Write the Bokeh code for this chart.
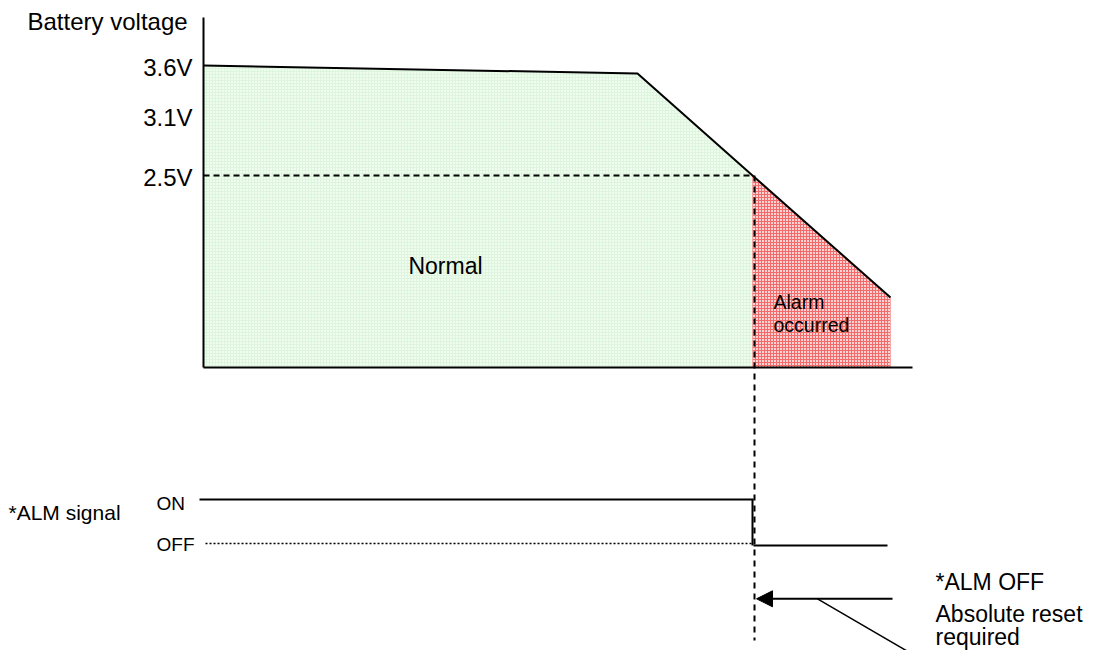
from bokeh.plotting import figure
from bokeh.models import Range1d, Arrow, NormalHead
from bokeh.core.properties import value
from bokeh.embed import file_html
from bokeh.resources import INLINE

FONT = "Liberation Sans"

# ---- diagram data (x: time units, y: volts) ----
# battery voltage curve
curve_t = [0, 434, 549, 687]
curve_v = [3.6, 3.52, 2.5, 1.28]
v_base = 0.58           # bottom of voltage plot (x axis)
v_axis_top = 4.08
t_axis_end = 709
alarm_t = 549
alarm_v = 2.5

# y tick labels
tick_values = [3.6, 3.1, 2.5]
tick_labels = ["3.6V", "3.1V", "2.5V"]

# ALM signal levels
sig_on = -0.74
sig_off = -1.20
sig_off_dotted = -1.18
sig_on_t = [-4, 550]
sig_off_t = [550, 684]
sig_dotted_t = [2, 549]
sig_labels = ["ON", "OFF"]
sig_label_v = [-0.78, -1.19]

# reset arrow and leader line
arrow_v = -1.733
arrow_t = [689, 553]
leader_t = [614, 734]
leader_v = [-1.733, -2.433]
dash_bottom_v = -2.15

# texts
note_lines = ["*ALM OFF", "Absolute reset", "required"]
note_v = [-1.56, -1.885, -2.11]
alarm_lines = ["Alarm", "occurred"]
alarm_text_v = [1.24, 1.01]

p = figure(width=1083, height=650, output_backend="svg", toolbar_location=None,
           x_range=Range1d(-203, 880), y_range=Range1d(-2.25, 4.25),
           min_border=0, outline_line_color=None)
p.axis.visible = False
p.grid.visible = False
p.background_fill_color = "white"
p.border_fill_color = "white"

# green "Normal" area
green_x = [curve_t[0], curve_t[1], alarm_t, alarm_t, curve_t[0]]
green_y = [curve_v[0], curve_v[1], alarm_v, v_base, v_base]
p.patch(green_x, green_y, fill_color="#f1fcf1", line_color=None,
        hatch_pattern="+", hatch_color="#dcf5dc", hatch_scale=3, hatch_weight=1)
# red "Alarm" area
red_x = [alarm_t, curve_t[3], curve_t[3], alarm_t]
red_y = [alarm_v, curve_v[3], v_base, v_base]
p.patch(red_x, red_y, fill_color="#fcd2d2", line_color=None,
        hatch_pattern="+", hatch_color="#f26a6a", hatch_scale=3, hatch_weight=1)

# axes of the diagram
p.line([0, 0], [v_base, v_axis_top], line_color="black", line_width=2)
p.line([0, t_axis_end], [v_base, v_base], line_color="black", line_width=2)

# voltage curve
p.line(curve_t, curve_v, line_color="black", line_width=2)

# dashed 2.5V and vertical alarm lines
p.line([0, alarm_t], [alarm_v, alarm_v], line_color="black", line_width=2, line_dash="6 4")
p.line([alarm_t + 2, alarm_t + 2], [alarm_v, dash_bottom_v], line_color="black",
       line_width=2, line_dash="6 5")

# ALM signal
p.line(sig_on_t, [sig_on, sig_on], line_color="black", line_width=2)
p.line([sig_on_t[1] - 1, sig_on_t[1] - 1], [sig_on, sig_off], line_color="black", line_width=2)
p.line(sig_off_t, [sig_off, sig_off], line_color="black", line_width=2)
p.line(sig_dotted_t, [sig_off_dotted, sig_off_dotted], line_color="black",
       line_width=1.5, line_dash="2 2")

# reset arrow and leader line
p.add_layout(Arrow(x_start=arrow_t[0], y_start=arrow_v, x_end=arrow_t[1], y_end=arrow_v,
                   line_color="black", line_width=2,
                   end=NormalHead(size=16, fill_color="black", line_color="black")))
p.line(leader_t, leader_v, line_color="black", line_width=1.5)

MID = dict(text_baseline="middle", text_font=value(FONT), text_color="black")

# tick labels
p.text(x=[-11] * 3, y=tick_values, text=tick_labels, text_align="right",
       y_offset=1.5, text_font_size="24px", **MID)

# axis title
p.text(x=[-176], y=[4.04], text=["Battery voltage"], text_align="left",
       text_font_size="24px", **MID)

# region labels
p.text(x=[242], y=[1.595], text=["Normal"], text_align="center",
       text_font_size="23px", **MID)
p.text(x=[570] * 2, y=alarm_text_v, text=alarm_lines, text_align="left",
       text_font_size="19.5px", **MID)

# signal labels
p.text(x=[-195], y=[-0.867], text=["*ALM signal"], text_align="left",
       text_font_size="21px", **MID)
p.text(x=[-47] * 2, y=sig_label_v, text=sig_labels, text_align="left",
       text_font_size="19px", **MID)

# note
p.text(x=[732] * 3, y=note_v, text=note_lines, text_align="left",
       text_font_size="23px", **MID)

open("out.html", "w").write(file_html(p, INLINE))
